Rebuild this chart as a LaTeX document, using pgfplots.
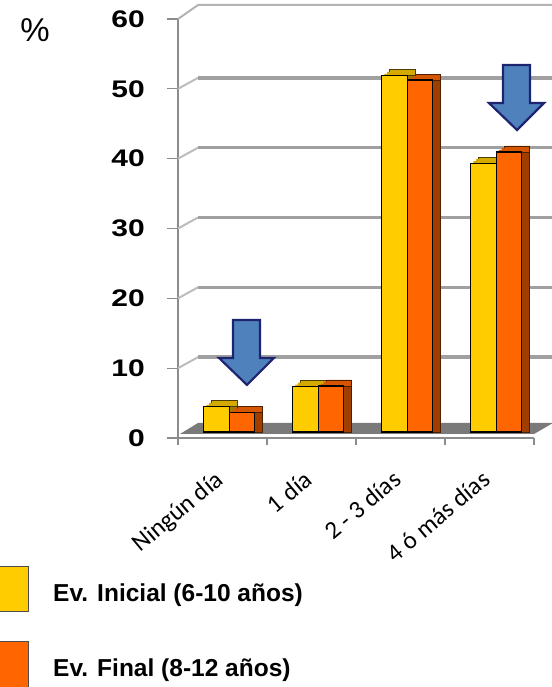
\documentclass[border=0pt]{standalone}
\usepackage{pgfplots}
\pgfplotsset{compat=1.18}
\usepackage{graphicx}
\usepackage{fontspec}
\setmainfont{Liberation Sans}
\newfontfamily\carlito{Carlito}
\definecolor{yel}{HTML}{FFCC00}
\definecolor{yeltop}{HTML}{D4AA00}
\definecolor{yelside}{HTML}{9C7C00}
\definecolor{ora}{HTML}{FF6600}
\definecolor{oratop}{HTML}{D65500}
\definecolor{oraside}{HTML}{9E3F00}
\definecolor{arrfill}{HTML}{4F81BD}
\definecolor{arrline}{HTML}{1F2470}
\definecolor{gridc}{HTML}{A0A0A0}
\definecolor{axc}{HTML}{8C8C8C}
\definecolor{floorc}{HTML}{7A7A7A}
\pgfplotstableread{
x ini fin
0 3.6 2.8
1 6.5 6.6
2 51.0 50.4
3 38.5 40.1
}\datatable
\begin{document}
\begin{tikzpicture}
\begin{axis}[
  at={(178pt,249pt)}, anchor=south west,
  scale only axis, width=356pt, height=419pt,
  xmin=-0.5, xmax=3.5, ymin=0, ymax=60,
  clip=false,
  axis lines*=left,
  axis line style={axc, line width=1.6pt},
  tick align=outside,
  major tick length=11pt, minor tick length=7pt,
  tick style={axc, line width=1.3pt},
  major x tick style={draw=none},
  xtick={0,1,2,3},
  xticklabels={Ningún día, 1 día, 2 - 3 días, 4 ó más días},
  minor xtick={-0.5,0.5,1.5,2.5,3.5},
  xticklabel style={font=\carlito\fontsize{25}{25}\selectfont, xshift=-9pt, yshift=-20pt, rotate=40, anchor=north east, inner sep=0pt},
  ytick={0,10,...,60},
  /pgf/number format/assume math mode=true,
  yticklabel={\scalebox{1.25}[1]{\pgfmathprintnumber{\tick}}},
  yticklabel style={font=\bfseries\fontsize{24}{24}\selectfont, anchor=east, inner sep=0pt, xshift=-22pt},
  bar width=25.5pt,
]
% floor
\fill[floorc] ([xshift=2pt,yshift=4pt]axis cs:-0.5,0) -- ([xshift=0pt,yshift=4pt]axis cs:3.5,0) -- ([xshift=19pt,yshift=15pt]axis cs:3.5,0) -- ([xshift=20pt,yshift=15pt]axis cs:-0.5,0) -- cycle;
% back-wall gridlines
\pgfplotsinvokeforeach{10,20,30,40,50}{
  \draw[gridc!70, line width=2pt] (axis cs:-0.5,#1) -- ([xshift=20pt,yshift=11pt]axis cs:-0.5,#1);
  \draw[gridc, line width=3.5pt] ([xshift=20pt,yshift=11pt]axis cs:-0.5,#1) -- ([xshift=30pt,yshift=11pt]axis cs:3.5,#1);
}
\draw[gridc!80, line width=2pt] (axis cs:-0.5,60) -- ([xshift=20pt,yshift=14pt]axis cs:-0.5,60) -- ([xshift=30pt,yshift=14pt]axis cs:3.5,60);
% yellow series: top face, side face, front face
\addplot[ybar, bar shift=-6pt, fill=yeltop, draw=yelside!50!black, line width=0.8pt, xshift=8pt, yshift=12pt] table[x=x,y=ini] {\datatable};
\addplot[ybar, bar shift=-6pt, fill=yeltop, draw=none, xshift=5.3pt, yshift=10pt] table[x=x,y=ini] {\datatable};
\addplot[ybar, bar shift=-6pt, fill=yeltop, draw=none, xshift=2.7pt, yshift=8pt] table[x=x,y=ini] {\datatable};
\addplot[ybar, bar shift=-6pt, fill=yelside, draw=yelside!50!black, line width=0.8pt, xshift=8pt, yshift=6pt] table[x=x,y=ini] {\datatable};
\addplot[ybar, bar shift=-6pt, fill=yel, draw=black, line width=1.2pt, yshift=6pt] table[x=x,y=ini] {\datatable};
% orange series
\addplot[ybar, bar shift=19.5pt, fill=oratop, draw=oraside!50!black, line width=0.8pt, xshift=8pt, yshift=12pt] table[x=x,y=fin] {\datatable};
\addplot[ybar, bar shift=19.5pt, fill=oratop, draw=none, xshift=5.3pt, yshift=10pt] table[x=x,y=fin] {\datatable};
\addplot[ybar, bar shift=19.5pt, fill=oratop, draw=none, xshift=2.7pt, yshift=8pt] table[x=x,y=fin] {\datatable};
\addplot[ybar, bar shift=19.5pt, fill=oraside, draw=oraside!50!black, line width=0.8pt, xshift=8pt, yshift=6pt] table[x=x,y=fin] {\datatable};
\addplot[ybar, bar shift=19.5pt, fill=ora, draw=black, line width=1.2pt, yshift=6pt] table[x=x,y=fin] {\datatable};
% arrows
\draw[fill=arrfill, draw=arrline, line width=2.2pt, line join=miter]
  (axis cs:0.275,7.6) -- ++(-28pt,27pt) -- ++(14pt,0pt) -- ++(0pt,38pt) -- ++(27pt,0pt) -- ++(0pt,-38pt) -- ++(14pt,0pt) -- cycle;
\draw[fill=arrfill, draw=arrline, line width=2.2pt, line join=miter]
  (axis cs:3.309,44.1) -- ++(-28pt,27pt) -- ++(14pt,0pt) -- ++(0pt,38pt) -- ++(27pt,0pt) -- ++(0pt,-38pt) -- ++(14pt,0pt) -- cycle;
\end{axis}
% percent sign
\node[font=\fontsize{33}{33}\selectfont] at (35pt,657pt) {\%};
% legend
\fill[yel, draw=black!70, line width=1pt] (-2pt,75pt) rectangle (28pt,120pt);
\node[anchor=base west, inner sep=0pt, font=\bfseries\fontsize{24.5}{24.5}\selectfont] at (53pt,85pt) {Ev. Inicial (6-10 años)};
\fill[ora, draw=black!70, line width=1pt] (-2pt,-2pt) rectangle (28pt,45pt);
\node[anchor=base west, inner sep=0pt, font=\bfseries\fontsize{24.5}{24.5}\selectfont] at (53pt,10pt) {Ev. Final (8-12 años)};
\pgfresetboundingbox
\path[use as bounding box] (0,0) rectangle (551pt,687pt);
\end{tikzpicture}
\end{document}
